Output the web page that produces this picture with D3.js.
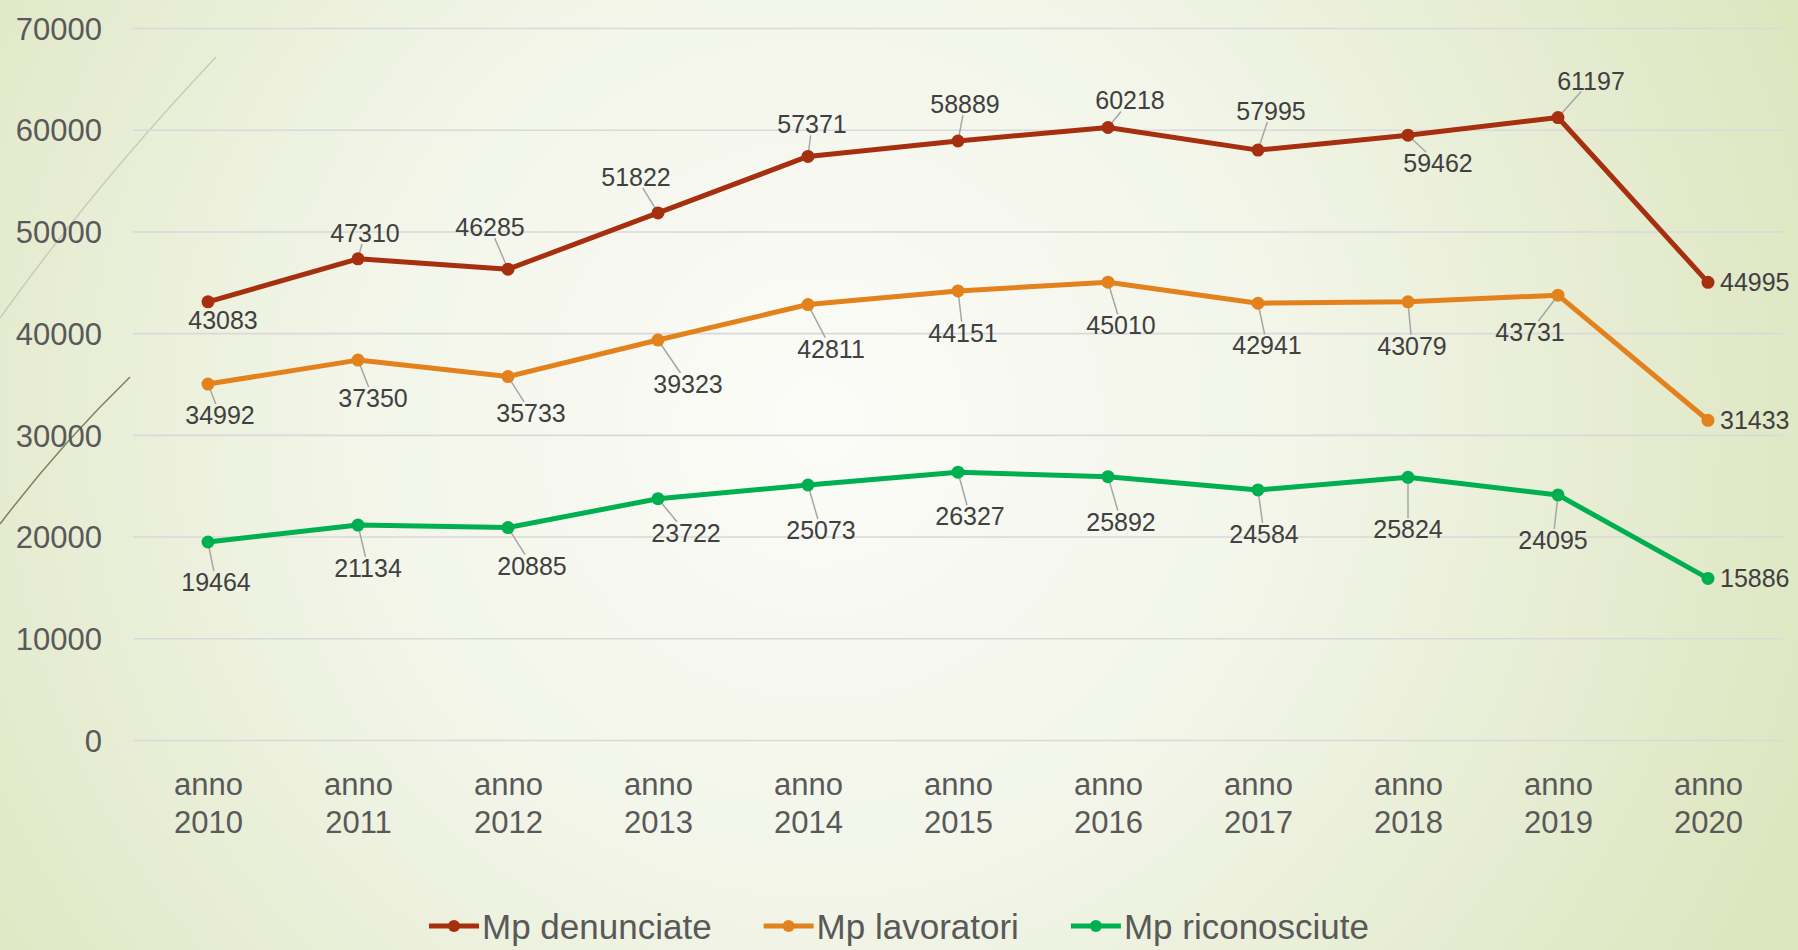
<!DOCTYPE html>
<html>
<head>
<meta charset="utf-8">
<script src="https://cdn.jsdelivr.net/npm/d3@7"></script>
<style>
  html, body { margin: 0; padding: 0; overflow: hidden; }
  body { width: 1798px; height: 950px; }
  text { font-family: "Liberation Sans", Arial, sans-serif; }
</style>
</head>
<body>
<div id="my_dataviz"></div>
<script>
// data
let years = ["anno 2010", "anno 2011", "anno 2012", "anno 2013", "anno 2014", "anno 2015",
             "anno 2016", "anno 2017", "anno 2018", "anno 2019", "anno 2020"];
let denunciate = [43083, 47310, 46285, 51822, 57371, 58889, 60218, 57995, 59462, 61197, 44995];
let lavoratori = [34992, 37350, 35733, 39323, 42811, 44151, 45010, 42941, 43079, 43731, 31433];
let riconosciute = [19464, 21134, 20885, 23722, 25073, 26327, 25892, 24584, 25824, 24095, 15886];
let seriesNames = ["Mp denunciate", "Mp lavoratori", "Mp riconosciute"];
let yTicks = [0, 10000, 20000, 30000, 40000, 50000, 60000, 70000];

// label placement (offset of label centre from the point, px); null = right of point
let labelOffsets = [
  [[15,18],[7,-26],[-18,-42],[-22,-36],[4,-32],[7,-37],[22,-27],[13,-39],[30,28],[33,-37],null],
  [[12,31],[15,38],[23,36],[30,44],[23,44],[5,42],[13,43],[9,42],[4,44],[-28,37],null],
  [[8,40],[10,43],[24,38],[28,34],[13,45],[12,44],[13,45],[6,44],[0,52],[-5,45],null]
];
let colors = ["#a52f0f", "#e3821c", "#00b050"];

let W = 1798, H = 950;
let margin = {top: 28, right: 15, bottom: 210, left: 133},
  width = W - margin.left - margin.right,
  height = H - margin.top - margin.bottom;

let root = d3.select("#my_dataviz")
.append("svg")
  .attr("width", W)
  .attr("height", H);

// background
let defs = root.append("defs");
let grad = defs.append("radialGradient")
  .attr("id", "bg")
  .attr("gradientUnits", "userSpaceOnUse")
  .attr("cx", 820).attr("cy", 420).attr("r", 1050);
grad.append("stop").attr("offset", 0).attr("stop-color", "#fbfcf8");
grad.append("stop").attr("offset", 0.45).attr("stop-color", "#f2f5e8");
grad.append("stop").attr("offset", 0.8).attr("stop-color", "#e5ebcf");
grad.append("stop").attr("offset", 1).attr("stop-color", "#dde6bf");
root.append("rect").attr("width", W).attr("height", H).attr("fill", "url(#bg)");

// decorative theme lines
root.append("path")
  .attr("d", "M0,318 Q95,185 216,57")
  .attr("fill", "none").attr("stroke", "#c9cdb6").attr("stroke-width", 1.5);
root.append("path")
  .attr("d", "M0,524 Q60,445 130,377")
  .attr("fill", "none").attr("stroke", "#857c5c").attr("stroke-width", 1.5);

let svg = root.append("g")
  .attr("transform", "translate(" + margin.left + "," + margin.top + ")");

// Add X axis
let x = d3.scalePoint()
  .domain(years)
  .range([0, width])
  .padding(0.5);

// Add Y axis
let y = d3.scaleLinear()
  .domain([0, 70000])
  .range([height, 0]);

let yAxis = svg.append("g")
  .call(d3.axisLeft(y)
    .tickValues(yTicks)
    .tickSize(-width)
    .tickPadding(31)
    .tickFormat(d3.format("d")));
yAxis.select(".domain").remove();
yAxis.selectAll(".tick line")
  .attr("stroke", "#d9d9d9")
  .attr("stroke-width", 1.6);
yAxis.selectAll(".tick text")
  .attr("fill", "#595959")
  .style("font-size", "31px")
  .attr("dy", "0.36em");

let xAxis = svg.append("g")
  .attr("transform", "translate(0," + height + ")")
  .call(d3.axisBottom(x).tickSize(0).tickPadding(0));
xAxis.select(".domain").remove();
xAxis.selectAll(".tick text")
  .attr("fill", "#595959")
  .style("font-size", "31px")
  .attr("y", 0)
  .attr("dy", null)
  .each(function(d) {
    let t = d3.select(this);
    let parts = d.split(" ");
    t.text(null);
    t.append("tspan").attr("x", 0).attr("y", 55).text(parts[0]);
    t.append("tspan").attr("x", 0).attr("y", 93).text(parts[1]);
  });

// lines + dots + labels
let allSeries = [denunciate, lavoratori, riconosciute];
let line = d3.line()
  .x(function(d, i) { return x(years[i]); })
  .y(function(d) { return y(d); });

allSeries.forEach(function(values, s) {
  let g = svg.append("g");
  g.append("path")
    .datum(values)
    .attr("d", line)
    .attr("fill", "none")
    .attr("stroke", colors[s])
    .attr("stroke-width", 5)
    .attr("stroke-linejoin", "round");

  // leader lines group first, so they sit under the dots
  let leaders = g.append("g");

  g.selectAll("circle")
    .data(values)
    .enter()
    .append("circle")
      .attr("cx", function(d, i) { return x(years[i]); })
      .attr("cy", function(d) { return y(d); })
      .attr("r", 6.5)
      .attr("fill", colors[s]);

  g.selectAll("text.lbl")
    .data(values)
    .enter()
    .append("text")
      .attr("class", "lbl")
      .attr("fill", "#404040")
      .style("font-size", "25px")
      .attr("x", function(d, i) {
        let o = labelOffsets[s][i];
        return o ? x(years[i]) + o[0] : x(years[i]) + 12;
      })
      .attr("y", function(d, i) {
        let o = labelOffsets[s][i];
        return o ? y(d) + o[1] : y(d);
      })
      .attr("dy", "0.36em")
      .attr("text-anchor", function(d, i) { return labelOffsets[s][i] ? "middle" : "start"; })
      .text(function(d) { return d; })
      .each(function(d, i) {
        if (!labelOffsets[s][i]) return;
        // leader line from the point to the edge of the label box
        let b = this.getBBox();
        let px = x(years[i]), py = y(d);
        let cx = b.x + b.width / 2, cy = b.y + b.height / 2;
        let hw = b.width / 2 + 2, hh = b.height / 2 - 3;
        let dx = px - cx, dy = py - cy;
        let k = Math.min(Math.abs(dx) > 0 ? hw / Math.abs(dx) : Infinity,
                         Math.abs(dy) > 0 ? hh / Math.abs(dy) : Infinity);
        if (k >= 1) return;
        let ex = cx + dx * k, ey = cy + dy * k;
        let len = Math.hypot(px - ex, py - ey);
        if (len > 11) {
          leaders.append("line")
            .attr("x1", px).attr("y1", py)
            .attr("x2", ex).attr("y2", ey)
            .attr("stroke", "#a6a6a6")
            .attr("stroke-width", 1.5);
        }
      });
});

// legend
let legend = root.append("g");
let lx = 0;
seriesNames.forEach(function(name, s) {
  let item = legend.append("g").attr("transform", "translate(" + lx + ",0)");
  item.append("line")
    .attr("x1", 0).attr("x2", 50)
    .attr("y1", 0).attr("y2", 0)
    .attr("stroke", colors[s]).attr("stroke-width", 5);
  item.append("circle").attr("cx", 25).attr("cy", 0).attr("r", 6).attr("fill", colors[s]);
  let t = item.append("text")
    .attr("x", 53).attr("y", 0).attr("dy", "0.36em")
    .attr("fill", "#595959")
    .style("font-size", "35px")
    .text(name);
  lx += 53 + t.node().getComputedTextLength() + 52;
});
lx -= 52;
legend.attr("transform", "translate(" + (899 - lx / 2) + ",926)");
</script>
</body>
</html>
